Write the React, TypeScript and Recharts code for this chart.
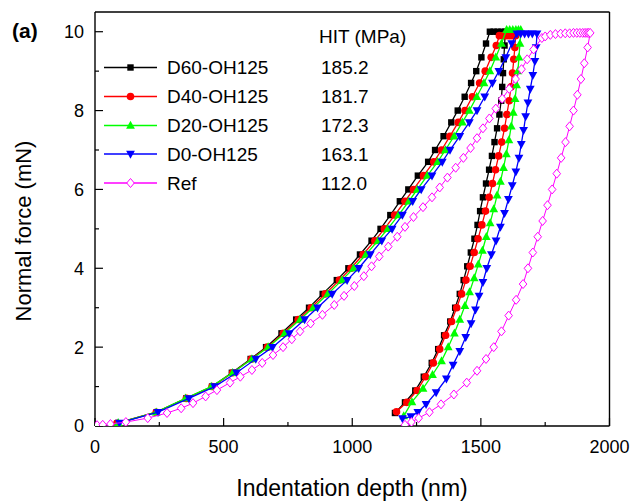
import React from "react";
import { ScatterChart, Scatter, XAxis, YAxis, ReferenceLine } from "recharts";

// [depth (nm), force (mN)]
const d60Load = [[88,0.07],[240,0.35],[355,0.7],[455,1.0],[532,1.35],[605,1.7],[665,2.0],[725,2.35],[782,2.7],[832,3.0],[885,3.35],[940,3.7],[985,4.0],[1030,4.35],[1075,4.7],[1110,5.0],[1148,5.35],[1185,5.7],[1218,6.0],[1255,6.35],[1295,6.7],[1322,7.0],[1355,7.35],[1385,7.7],[1410,8.0],[1437,8.35],[1462,8.7],[1482,9.0],[1502,9.35],[1520,9.7],[1535,10.0]];
const d60Hold = [[1550,10],[1565,10],[1580,10]];
const d60Unload = [[1595,10],[1592,9.65],[1589,9.3],[1586,8.95],[1583,8.6],[1579,8.25],[1572,7.9],[1563,7.55],[1553,7.2],[1543,6.85],[1532,6.5],[1520,6.15],[1508,5.8],[1497,5.45],[1487,5.1],[1475,4.75],[1461,4.4],[1447,4.05],[1433,3.7],[1418,3.35],[1400,3.0],[1381,2.65],[1357,2.3],[1334,1.95],[1309,1.6],[1278,1.25],[1245,0.9],[1205,0.6],[1166,0.33]];

const d40Load = [[85,0.07],[238,0.35],[355,0.7],[455,1.0],[535,1.35],[608,1.7],[670,2.0],[732,2.35],[790,2.7],[840,3.0],[895,3.35],[950,3.7],[995,4.0],[1042,4.35],[1088,4.7],[1125,5.0],[1165,5.35],[1205,5.7],[1238,6.0],[1277,6.35],[1317,6.7],[1347,7.0],[1380,7.35],[1412,7.7],[1438,8.0],[1467,8.35],[1495,8.7],[1517,9.0],[1540,9.35],[1560,9.65],[1572,9.9]];
const d40Hold = [[1585,9.9],[1598,9.9],[1610,9.9],[1622,9.9]];
const d40Unload = [[1635,9.9],[1632,9.6],[1628,9.3],[1623,8.95],[1617,8.6],[1610,8.25],[1601,7.9],[1592,7.55],[1581,7.2],[1569,6.85],[1557,6.5],[1545,6.15],[1532,5.8],[1518,5.45],[1504,5.1],[1489,4.75],[1474,4.4],[1458,4.05],[1442,3.7],[1425,3.35],[1406,3.0],[1386,2.65],[1363,2.3],[1340,1.95],[1315,1.6],[1285,1.25],[1252,0.9],[1212,0.6],[1172,0.36]];

const d20Load = [[90,0.08],[238,0.35],[352,0.7],[452,1.0],[535,1.35],[610,1.7],[673,2.0],[737,2.35],[797,2.7],[848,3.0],[905,3.35],[960,3.7],[1005,4.0],[1053,4.35],[1100,4.7],[1138,5.0],[1180,5.35],[1220,5.7],[1253,6.0],[1292,6.35],[1332,6.7],[1362,7.0],[1396,7.35],[1428,7.7],[1455,8.0],[1484,8.35],[1512,8.7],[1535,9.0],[1558,9.35],[1580,9.7],[1600,10.05]];
const d20Hold = [[1612,10.05],[1624,10.05],[1636,10.05],[1646,10.05]];
const d20Unload = [[1655,10.05],[1652,9.7],[1648,9.35],[1644,9.0],[1639,8.65],[1633,8.3],[1626,7.95],[1618,7.6],[1609,7.25],[1599,6.9],[1588,6.55],[1576,6.2],[1563,5.85],[1550,5.5],[1536,5.15],[1521,4.8],[1506,4.45],[1490,4.1],[1474,3.75],[1456,3.4],[1438,3.05],[1418,2.7],[1397,2.35],[1373,2.0],[1347,1.65],[1312,1.3],[1275,0.95],[1232,0.61],[1200,0.25]];

const d0Load = [[95,0.08],[245,0.35],[365,0.7],[465,1.0],[550,1.35],[625,1.7],[690,2.0],[755,2.35],[815,2.7],[865,3.0],[922,3.35],[980,3.7],[1025,4.0],[1070,4.35],[1115,4.7],[1155,5.0],[1195,5.35],[1235,5.7],[1268,6.0],[1310,6.35],[1350,6.7],[1380,7.0],[1418,7.35],[1455,7.7],[1485,8.0],[1515,8.35],[1545,8.7],[1570,9.0],[1597,9.35],[1620,9.7],[1640,9.95]];
const d0Hold = [[1655,9.95],[1670,9.95],[1685,9.95],[1700,9.95]];
const d0Unload = [[1718,9.95],[1715,9.6],[1710,9.25],[1702,8.9],[1692,8.55],[1683,8.2],[1674,7.85],[1666,7.5],[1657,7.15],[1648,6.8],[1636,6.45],[1622,6.1],[1607,5.75],[1592,5.4],[1576,5.05],[1559,4.7],[1541,4.35],[1523,4.0],[1508,3.65],[1493,3.3],[1479,2.95],[1462,2.6],[1441,2.25],[1418,1.9],[1392,1.55],[1366,1.2],[1326,0.85],[1287,0.55],[1255,0.35],[1228,0.24],[1195,0.19]];

const refLoad = [[8,0.02],[30,0.03],[60,0.05],[120,0.1],[205,0.2],[280,0.33],[335,0.45],[381,0.58],[430,0.75],[474,0.91],[525,1.1],[565,1.25],[610,1.42],[650,1.6],[692,1.8],[731,2.0],[765,2.2],[797,2.4],[838,2.6],[884,2.82],[930,3.07],[968,3.3],[1008,3.55],[1045,3.8],[1075,4.05],[1105,4.3],[1140,4.55],[1175,4.8],[1205,5.05],[1238,5.3],[1275,5.55],[1310,5.8],[1340,6.05],[1370,6.3],[1402,6.55],[1432,6.8],[1460,7.05],[1485,7.3],[1508,7.55],[1533,7.8],[1558,8.05],[1583,8.3],[1610,8.55],[1635,8.8],[1658,9.05],[1680,9.3],[1705,9.55],[1737,9.84]];
const refHold = [[1750,9.88],[1770,9.92],[1790,9.94],[1810,9.95],[1828,9.96],[1845,9.96],[1860,9.97],[1873,9.97],[1885,9.97],[1896,9.97],[1905,9.97],[1913,9.97],[1919,9.97]];
const refUnload = [[1925,9.97],[1915,9.6],[1902,9.2],[1889,8.8],[1875,8.4],[1860,8.0],[1845,7.6],[1829,7.2],[1812,6.8],[1795,6.4],[1777,6.0],[1759,5.6],[1740,5.2],[1721,4.8],[1702,4.4],[1683,4.0],[1664,3.6],[1637,3.2],[1608,2.8],[1580,2.4],[1550,2.0],[1520,1.7],[1485,1.4],[1445,1.1],[1395,0.8],[1345,0.55],[1300,0.35],[1258,0.2],[1230,0.1],[1205,0.03]];

const seriesNames = ["D60-OH125", "D40-OH125", "D20-OH125", "D0-OH125", "Ref"];
const hitValues = ["185.2", "181.7", "172.3", "163.1", "112.0"];
const colors = ["#000000", "#ff0000", "#00ff00", "#0000ff", "#ff00ff"];

const xTicks = [0, 500, 1000, 1500, 2000];
const xMinor = [250, 750, 1250, 1750];
const yTicks = [0, 2, 4, 6, 8, 10];
const yMinor = [1, 3, 5, 7, 9];

const FONT = "'Liberation Sans', Arial, sans-serif";

const toPts = (...parts: number[][][]) => parts.flat().map(([x, y]) => ({ x, y }));

const Square = ({ cx, cy }: any) => <rect x={cx - 3.2} y={cy - 3.2} width={6.4} height={6.4} fill={colors[0]} />;
const Dot = ({ cx, cy }: any) => <circle cx={cx} cy={cy} r={3.8} fill={colors[1]} />;
const TriUp = ({ cx, cy }: any) => (
  <polygon points={`${cx},${cy - 4.8} ${cx + 4.4},${cy + 3.2} ${cx - 4.4},${cy + 3.2}`} fill={colors[2]} />
);
const TriDown = ({ cx, cy }: any) => (
  <polygon points={`${cx},${cy + 4.8} ${cx + 4.4},${cy - 3.2} ${cx - 4.4},${cy - 3.2}`} fill={colors[3]} />
);
const Diamond = ({ cx, cy }: any) => (
  <polygon points={`${cx},${cy - 4.5} ${cx + 3.8},${cy} ${cx},${cy + 4.5} ${cx - 3.8},${cy}`} fill="#fff" stroke={colors[4]} strokeWidth={1} />
);
const shapes = [Square, Dot, TriUp, TriDown, Diamond];

const series = [
  toPts(d60Load, d60Hold, d60Unload),
  toPts(d40Load, d40Hold, d40Unload),
  toPts(d20Load, d20Hold, d20Unload),
  toPts(d0Load, d0Hold, d0Unload),
  toPts(refLoad, refHold, refUnload),
];

function LegendOverlay() {
  const rows = [67.5, 96.5, 125.5, 154, 183];
  return (
    <svg width={630} height={501} style={{ position: "absolute", left: 0, top: 0, pointerEvents: "none" }} fontFamily={FONT}>
      <text x={12} y={38} fontSize={21} fontWeight="bold">(a)</text>
      <text x={319} y={43} fontSize={19}>HIT (MPa)</text>
      {rows.map((cy, i) => {
        const S = shapes[i];
        return (
          <g key={i}>
            <line x1={104} x2={157} y1={cy} y2={cy} stroke={colors[i]} strokeWidth={1.3} />
            <S cx={130.5} cy={cy} />
            <text x={167} y={cy + 6.8} fontSize={19}>{seriesNames[i]}</text>
            <text x={321} y={cy + 6.8} fontSize={19}>{hitValues[i]}</text>
          </g>
        );
      })}
      <text transform="translate(31,231) rotate(-90)" textAnchor="middle" fontSize={22}>Normal force (mN)</text>
      <text x={352} y={496} textAnchor="middle" fontSize={23}>Indentation depth (nm)</text>
    </svg>
  );
}

export default function App() {
  const tick = { fill: "#000", fontSize: 18, fontFamily: FONT };
  const axisLine = { stroke: "#000", strokeWidth: 1.4 };
  return (
    <div style={{ position: "absolute", left: 0, top: 0, width: 630, height: 501, background: "#fff" }}>
      <ScatterChart width={630} height={501} margin={{ top: 12, right: 20.5, bottom: 0, left: 0 }}>
        <XAxis type="number" dataKey="x" domain={[0, 2000]} ticks={xTicks} allowDataOverflow
          height={75} tick={tick} tickLine={false} tickSize={0} tickMargin={14} axisLine={axisLine} />
        <YAxis type="number" dataKey="y" domain={[0, 10.5]} ticks={yTicks} allowDataOverflow
          width={95} tick={tick} tickLine={false} tickSize={0} tickMargin={11} axisLine={axisLine} />
        <ReferenceLine y={10.5} stroke="#000" strokeWidth={1.4} />
        <ReferenceLine x={2000} stroke="#000" strokeWidth={1.4} />
        {series.map((data, i) => (
          <Scatter key={seriesNames[i]} name={seriesNames[i]} data={data} shape={shapes[i]}
            line={{ stroke: colors[i], strokeWidth: i === 4 ? 1 : 1.3 }} isAnimationActive={false} />
        ))}
        {xTicks.map((v) => (
          <ReferenceLine key={"xM" + v} segment={[{ x: v, y: 0 }, { x: v, y: 0.2 }]} stroke="#000" strokeWidth={1.2} />
        ))}
        {xMinor.map((v) => (
          <ReferenceLine key={"xm" + v} segment={[{ x: v, y: 0 }, { x: v, y: 0.1 }]} stroke="#000" strokeWidth={1.2} />
        ))}
        {yTicks.map((v) => (
          <ReferenceLine key={"yM" + v} segment={[{ x: 0, y: v }, { x: 31, y: v }]} stroke="#000" strokeWidth={1.2} />
        ))}
        {yMinor.map((v) => (
          <ReferenceLine key={"ym" + v} segment={[{ x: 0, y: v }, { x: 15.5, y: v }]} stroke="#000" strokeWidth={1.2} />
        ))}
      </ScatterChart>
      <LegendOverlay />
    </div>
  );
}
